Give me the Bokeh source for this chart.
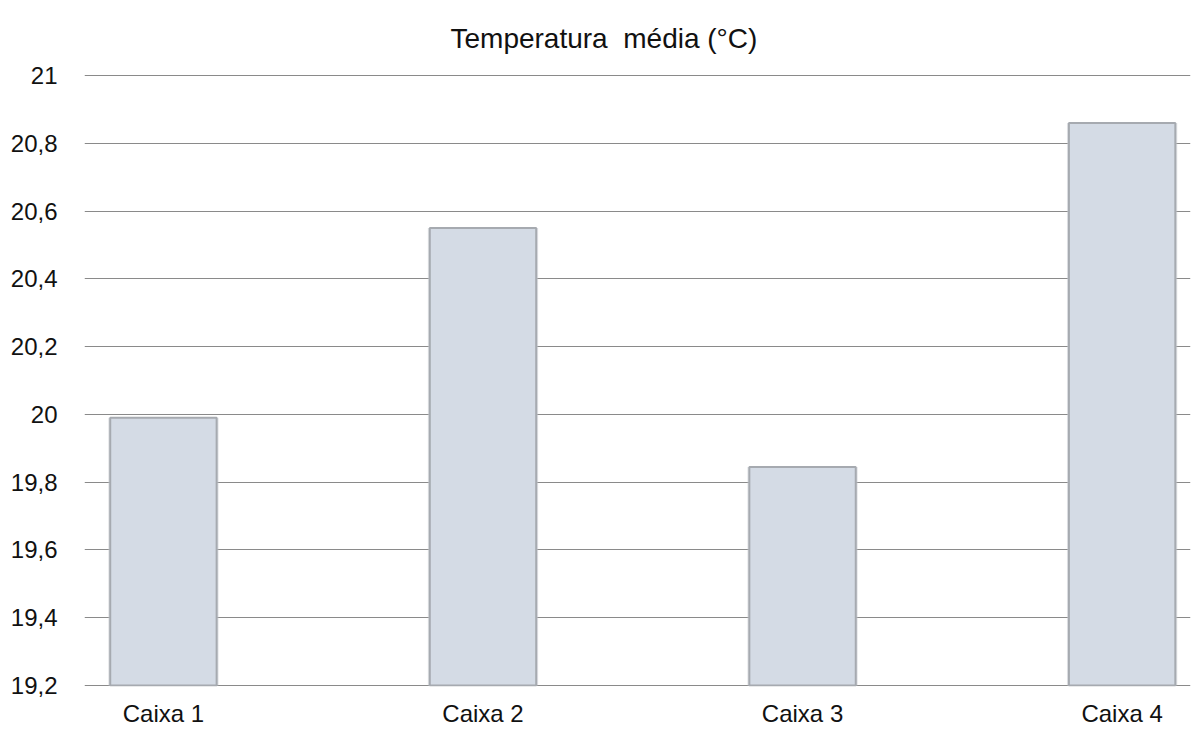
from bokeh.plotting import figure
from bokeh.models import FixedTicker, Range1d, Title
from bokeh.embed import file_html
from bokeh.resources import INLINE

# Mean temperature per box
caixas = ["Caixa 1", "Caixa 2", "Caixa 3", "Caixa 4"]
temperaturas = [19.99, 20.55, 19.845, 20.86]

y_ticks = [19.2, 19.4, 19.6, 19.8, 20, 20.2, 20.4, 20.6, 20.8, 21]
y_tick_labels = ["19,2", "19,4", "19,6", "19,8", "20", "20,2", "20,4", "20,6", "20,8", "21"]

x_pos = list(range(len(caixas)))

p = figure(width=1192, height=729, output_backend="svg", toolbar_location=None,
           x_range=Range1d(-0.247, 3.214), y_range=Range1d(19.197, 21.003),
           min_border_left=84, min_border_right=2, min_border_bottom=0,
           min_border_top=0)
p.title = Title(text="Temperatura\u00a0 média (°C)", align="left", offset=366,
                text_font="Liberation Sans", text_font_size="28px",
                text_font_style="normal", text_color="#111111", standoff=41)
p.outline_line_color = None
p.background_fill_color = "white"
p.border_fill_color = "white"

# soft shadow around each bar
p.vbar(x=x_pos, top=temperaturas, bottom=19.2, width=0.345,
       fill_color="#c4c8ce", fill_alpha=0.5, line_color=None)
p.vbar(x=x_pos, top=temperaturas, bottom=19.2, width=0.333,
       fill_color="#d4dbe5", line_color="#a6aab0", line_width=2)

p.xgrid.grid_line_color = None
p.ygrid.ticker = FixedTicker(ticks=y_ticks)
p.ygrid.grid_line_color = "#8a8a8a"
p.ygrid.grid_line_width = 1
p.ygrid.level = "underlay"

p.yaxis.ticker = FixedTicker(ticks=y_ticks)
p.yaxis.major_label_overrides = dict(zip(y_ticks, y_tick_labels))
p.xaxis.ticker = FixedTicker(ticks=x_pos)
p.xaxis.major_label_overrides = dict(zip(x_pos, caixas))

for ax in (p.xaxis, p.yaxis):
    ax.axis_line_color = None
    ax.major_tick_line_color = None
    ax.minor_tick_line_color = None
    ax.major_label_text_font = "Liberation Sans"
    ax.major_label_text_font_size = "24px"
    ax.major_label_text_color = "#111111"
p.yaxis.major_label_standoff = 21
p.xaxis.major_label_standoff = 7

open("out.html", "w").write(file_html(p, INLINE))
